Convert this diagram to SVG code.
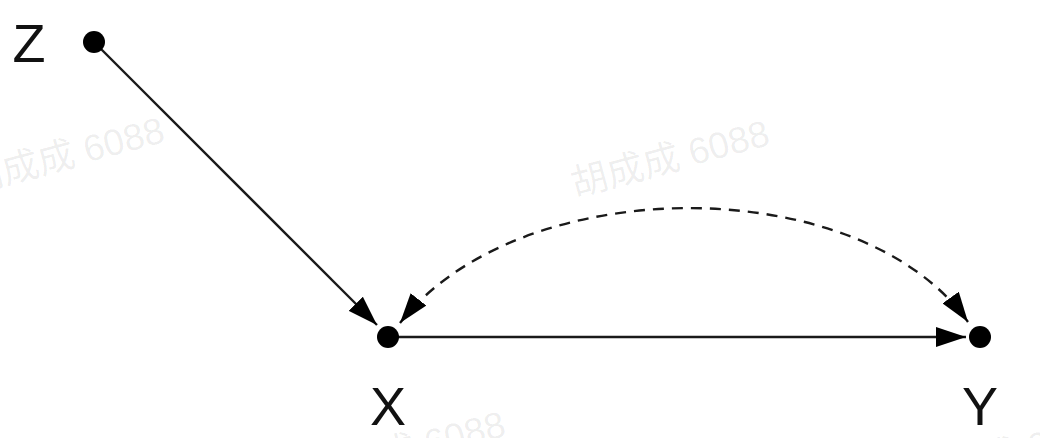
<svg xmlns="http://www.w3.org/2000/svg" width="1040" height="438" viewBox="0 0 1040 438">
<style>
.lbl{font-family:"Liberation Sans","DejaVu Sans",sans-serif;font-size:54px;fill:#111;text-anchor:middle}
.wm{font-family:"Liberation Sans","Noto Sans CJK SC",sans-serif;font-size:37px;fill:#000;fill-opacity:0.07}
.edge{fill:none;stroke:#1a1a1a;stroke-width:2.4}
.dash{stroke-dasharray:11 8}
.dot{fill:#000}
</style>
<defs>
<marker id="ah" viewBox="0 0 30 20" refX="30" refY="10" markerWidth="30" markerHeight="20" markerUnits="userSpaceOnUse" orient="auto-start-reverse">
<path d="M0,0 L30,10 L0,20 Z" fill="#000"/>
</marker>
</defs>
<g id="watermarks">
<text class="wm" transform="translate(-30,194) rotate(-15)">胡成成 6088</text>
<text class="wm" transform="translate(575,197) rotate(-15)">胡成成 6088</text>
<text class="wm" transform="translate(311,488) rotate(-15)">胡成成 6088</text>
<text class="wm" transform="translate(914,492) rotate(-15)">胡成成 6088</text>
</g>
<g id="connectors">
<line class="edge" x1="94" y1="42" x2="377" y2="325" marker-end="url(#ah)"/>
<line class="edge" x1="388" y1="337" x2="966" y2="337" marker-end="url(#ah)"/>
<path class="edge dash" d="M400,323 C520,170 860,170 968,322" marker-start="url(#ah)" marker-end="url(#ah)"/>
</g>
<g id="node-Z">
<circle class="dot" cx="94" cy="42" r="11"/>
<text class="lbl" x="29" y="62">Z</text>
</g>
<g id="node-X">
<circle class="dot" cx="388" cy="337" r="11"/>
<text class="lbl" x="388" y="425">X</text>
</g>
<g id="node-Y">
<circle class="dot" cx="980" cy="337" r="11"/>
<text class="lbl" x="980" y="425">Y</text>
</g>
</svg>
